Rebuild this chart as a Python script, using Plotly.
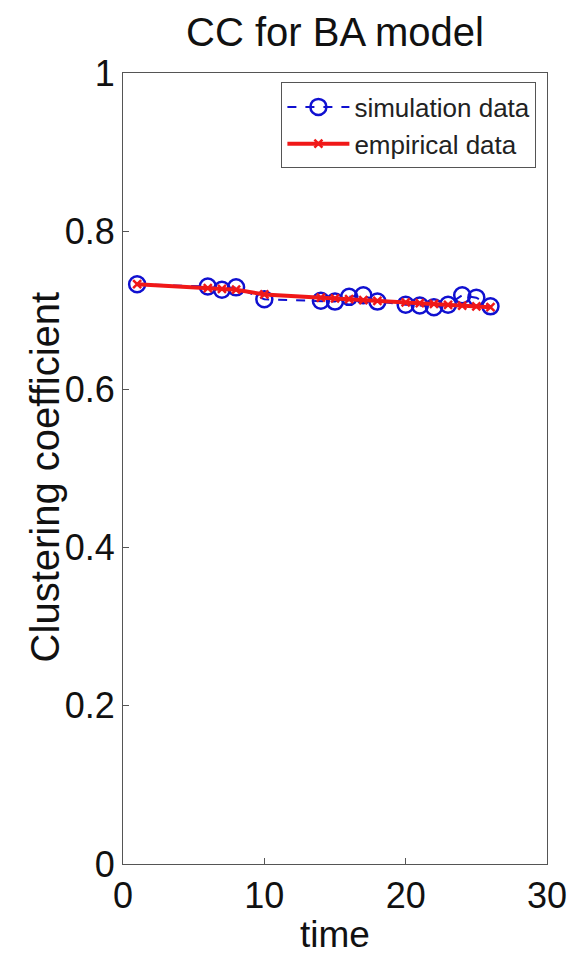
import plotly.graph_objects as go

time = [1, 6, 7, 8, 10, 14, 15, 16, 17, 18, 20, 21, 22, 23, 24, 25, 26]
simulation = [0.733, 0.730, 0.726, 0.729, 0.714, 0.712, 0.711, 0.717, 0.719, 0.711,
              0.707, 0.706, 0.704, 0.707, 0.719, 0.716, 0.705]
empirical = [0.733, 0.728, 0.727, 0.726, 0.720, 0.716, 0.715, 0.714, 0.713, 0.712,
             0.710, 0.709, 0.708, 0.707, 0.706, 0.705, 0.704]

x_ticks = [0, 10, 20, 30]
y_ticks = [0, 0.2, 0.4, 0.6, 0.8, 1]
y_tick_labels = ["0", "0.2", "0.4", "0.6", "0.8", "1"]

FONT = "Liberation Sans, Arial, Helvetica, sans-serif"

fig = go.Figure()
fig.add_trace(go.Scatter(
    x=time, y=simulation, name="simulation data", mode="lines+markers",
    line=dict(color="#1010d0", width=2, dash="dash"),
    marker=dict(symbol="circle-open", size=16, color="#1010d0", line=dict(width=2.5)),
))
fig.add_trace(go.Scatter(
    x=time, y=empirical, name="empirical data", mode="lines+markers",
    line=dict(color="#f01818", width=4),
    marker=dict(symbol="x-thin-open", size=8, color="#f01818", line=dict(width=2.5, color="#f01818")),
))

axis_common = dict(
    showgrid=False, zeroline=False, showline=True, linecolor="#555555", linewidth=1.2,
    mirror=True, ticks="inside", ticklen=6, tickcolor="#555555", automargin=False,
    tickfont=dict(family=FONT, size=36, color="#111111"),
)

fig.update_layout(
    template="none",
    width=571, height=955,
    margin=dict(l=123, r=24, t=73, b=91),
    paper_bgcolor="white", plot_bgcolor="white",
    title=dict(text="CC for BA model", xref="paper", x=0.5, xanchor="center", y=0.966, yanchor="middle",
               font=dict(family=FONT, size=40, color="#111111")),
    xaxis=dict(range=[0, 30], tickvals=x_ticks, ticktext=[str(v) for v in x_ticks],
               title=dict(text="time", font=dict(family=FONT, size=37, color="#111111"), standoff=8),
               **axis_common),
    yaxis=dict(range=[0, 1], tickvals=y_ticks, ticktext=y_tick_labels, **axis_common),
    annotations=[dict(text="Clustering coefficient", xref="paper", yref="paper",
                      x=-0.184, y=0.49, xanchor="center", yanchor="middle", textangle=-90,
                      showarrow=False, font=dict(family=FONT, size=40, color="#111111"))],
    legend=dict(x=0.975, xanchor="right", y=0.988, yanchor="top",
                bordercolor="#555555", borderwidth=1, bgcolor="white",
                font=dict(family=FONT, size=26, color="#222222"),
                tracegroupgap=0, itemwidth=62),
    showlegend=True,
)

fig.write_html("out.html")
